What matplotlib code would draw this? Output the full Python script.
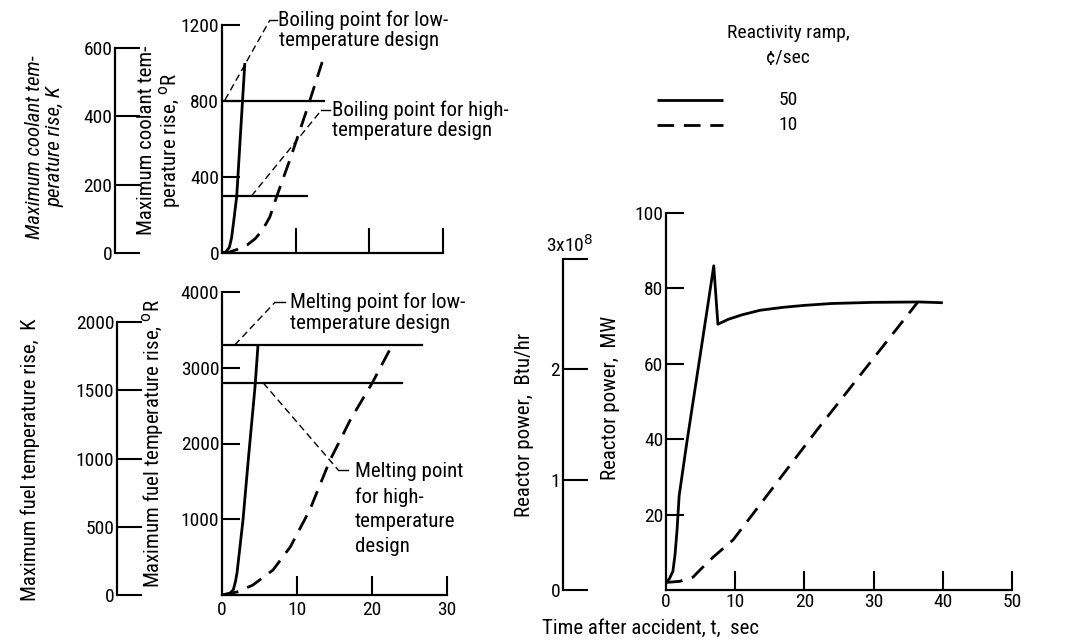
import matplotlib
matplotlib.use("Agg")
import matplotlib.pyplot as plt
from matplotlib import font_manager
from matplotlib.lines import Line2D

# narrow sans close to the scanned report lettering
names = {f.name for f in font_manager.fontManager.ttflist}
fams = [n for n in ["Roboto Condensed", "PT Sans Narrow", "Archivo Narrow"] if n in names]
plt.rcParams["font.family"] = fams + ["DejaVu Sans"]
plt.rcParams["font.size"] = 14

# ---- data ----
# coolant temperature rise, deg R
coolant_t_50 = [0, 0.5, 1.0, 1.3, 1.6, 2.0, 2.5, 3.1]
coolant_50 = [0, 5, 30, 80, 170, 300, 620, 1000]
coolant_t_10 = [0, 1, 2, 3.4, 4.5, 5.5, 6.5, 7.4, 9.2, 11.5, 13.6]
coolant_10 = [0, 5, 18, 42, 75, 121, 190, 295, 489, 752, 1005]
boil_low, boil_low_end = 800, 13.9
boil_high, boil_high_end = 300, 11.6

# fuel temperature rise, deg R
fuel_t_50 = [0, 1.0, 1.5, 1.8, 2.0, 2.8, 3.5, 4.4, 4.8]
fuel_50 = [0, 20, 66, 180, 290, 990, 1780, 2745, 3300]
fuel_t_10 = [0, 2, 4.1, 6.8, 9.1, 11.7, 14.4, 17.1, 20.1, 22.7]
fuel_10 = [0, 40, 130, 330, 634, 1122, 1780, 2310, 2812, 3300]
melt_low, melt_low_end = 3300, 26.7
melt_high, melt_high_end = 2800, 24.0

# reactor power, MW
power_t_50 = [0, 0.5, 1.0, 1.3, 1.6, 1.9, 3.0, 4.5, 6.0, 6.9, 7.5, 9, 11, 13.6, 17, 20, 24, 30, 36.6, 40]
power_50 = [2, 3, 5, 9.3, 16, 25, 39, 57, 75, 86, 70.5, 71.8, 73, 74.2, 75, 75.5, 76, 76.3, 76.4, 76.2]
power_t_10 = [0, 2, 3.9, 4.9, 6.8, 9.7, 21.8, 36.4]
power_10 = [2, 2.3, 3.4, 5.3, 8.7, 13.3, 42.4, 76.4]

ramps = ["50", "10"]

W, H = 1075, 642
fig = plt.figure(figsize=(W / 100, H / 100), dpi=100)

def px_axes(x0, y0, x1, y1):
    ax = fig.add_axes([x0 / W, 1 - y1 / H, (x1 - x0) / W, (y1 - y0) / H])
    ax.set_facecolor("none")
    for s in ["top", "right"]:
        ax.spines[s].set_visible(False)
    for s in ["left", "bottom"]:
        ax.spines[s].set_linewidth(1.6)
    return ax

def side_axis(x, y0, y1, top, ticks, bound, labels):
    ax = px_axes(x, y0, x + 40, y1)
    ax.spines["bottom"].set_visible(False)
    ax.set_xticks([])
    ax.set_ylim(0, top)
    ax.spines["left"].set_bounds(0, bound)
    ax.set_yticks(ticks)
    ax.set_yticklabels(labels)
    ax.tick_params(axis="y", direction="in", length=18, width=1.5, pad=2)
    return ax

solid = dict(color="black", lw=2.0, solid_capstyle="butt")
dashed = dict(color="black", lw=2.0, dashes=(6, 3.5))
leader = dict(color="black", lw=1.0, dashes=(5, 3), clip_on=False)
thin = dict(color="black", lw=1.0, clip_on=False)
ref = dict(color="black", lw=1.6)
note = dict(ha="left", va="center", fontsize=15)

# ---------------- coolant panel ----------------
ax1 = px_axes(222, 25, 443, 253)
ax1.set_xlim(0, 30)
ax1.set_ylim(0, 1200)
ax1.set_yticks([0, 400, 800, 1200])
ax1.set_xticks([10, 20, 30])
ax1.set_xticklabels([])
ax1.tick_params(axis="y", direction="in", length=13, width=1.5, pad=2)
ax1.tick_params(axis="x", direction="in", length=18, width=1.5)
ax1.plot(coolant_t_50, coolant_50, **solid)
ax1.plot(coolant_t_10, coolant_10, **dashed)
ax1.plot([0, boil_low_end], [boil_low] * 2, **ref)
ax1.plot([0, boil_high_end], [boil_high] * 2, **ref)
ax1.plot([0.4, 6.5], [805, 1226], **leader)
ax1.plot([6.5, 7.4], [1226, 1226], **thin)
ax1.text(7.6, 1226, "Boiling point for low-", **note)
ax1.text(7.7, 1120, "temperature design", **note)
ax1.plot([4.0, 13.5], [300, 752], **leader)
ax1.plot([13.5, 14.6], [752, 752], **thin)
ax1.text(15.0, 752, "Boiling point for high-", **note)
ax1.text(15.0, 647, "temperature design", **note)
side_axis(115, 25, 253, 1200 / 1.8, [0, 200, 400, 600], 600, ["0", "200", "400", "600"])

fig.text(45 / W, 1 - 147 / H, "Maximum coolant tem-\nperature rise, K", rotation=90,
         ha="center", va="center", linespacing=1.1, fontsize=15, style="italic")
fig.text(160 / W, 1 - 140 / H, "Maximum coolant tem-\nperature rise, $^{\\rm o}$R", rotation=90,
         ha="center", va="center", linespacing=1.1, fontsize=15)

# ---------------- fuel panel ----------------
ax2 = px_axes(222, 292, 447, 595)
ax2.set_xlim(0, 30)
ax2.set_ylim(0, 4000)
ax2.set_yticks([0, 1000, 2000, 3000, 4000])
ax2.set_yticklabels(["", "1000", "2000", "3000", "4000"])
ax2.set_xticks([0, 10, 20, 30])
ax2.tick_params(axis="y", direction="in", length=13, width=1.5, pad=2)
ax2.tick_params(axis="x", direction="in", length=14, width=1.5, pad=4)
ax2.xaxis.get_major_ticks()[0].tick1line.set_visible(False)
ax2.plot(fuel_t_50, fuel_50, **solid)
ax2.plot(fuel_t_10, fuel_10, **dashed)
ax2.plot([0, melt_low_end], [melt_low] * 2, **ref)
ax2.plot([0, melt_high_end], [melt_high] * 2, **ref)
ax2.plot([1.7, 7.1], [3300, 3868], **leader)
ax2.plot([7.1, 8.4], [3868, 3868], **thin)
ax2.text(9.0, 3868, "Melting point for low-", **note)
ax2.text(9.0, 3590, "temperature design", **note)
ax2.plot([5.5, 15.5], [2800, 1650], **leader)
ax2.plot([15.5, 16.8], [1650, 1650], **thin)
for k, line in enumerate(["Melting point", "for high-", "temperature", "design"]):
    ax2.text(17.7, 1624 - 330 * k, line, **note)
side_axis(117, 292, 595, 4000 / 1.8, [0, 500, 1000, 1500, 2000], 2000,
          ["0", "500", "1000", "1500", "2000"])

fig.text(30 / W, 1 - 460 / H, "Maximum fuel temperature rise,  K", rotation=90,
         ha="center", va="center", fontsize=15)
fig.text(153 / W, 1 - 443 / H, "Maximum fuel temperature rise, $^{\\rm o}$R", rotation=90,
         ha="center", va="center", fontsize=15)

# ---------------- power panel ----------------
ax3 = px_axes(666, 213, 1012, 590)
ax3.set_xlim(0, 50)
ax3.set_ylim(0, 100)
ax3.set_yticks([20, 40, 60, 80, 100])
ax3.set_xticks([0, 10, 20, 30, 40, 50])
ax3.tick_params(axis="y", direction="in", length=13, width=1.5, pad=2)
ax3.tick_params(axis="x", direction="in", length=14, width=1.5, pad=2)
ax3.xaxis.get_major_ticks()[0].tick1line.set_visible(False)
ax3.plot(power_t_50, power_50, **solid)
ax3.plot(power_t_10, power_10, **dashed)
btu = side_axis(563, 213, 590, 100 / 29.3071, [0, 1, 2, 3], 3, ["0", "1", "2", ""])
btu.tick_params(axis="y", length=18)
fig.text(570 / W, 1 - 245 / H, "3x10$^{8}$", ha="center", va="center", fontsize=14)

fig.text(525 / W, 1 - 425 / H, "Reactor power,  Btu/hr", rotation=90,
         ha="center", va="center", fontsize=15)
fig.text(610 / W, 1 - 398 / H, "Reactor power,  MW", rotation=90,
         ha="center", va="center", fontsize=15)
fig.text(542 / W, 1 - 628 / H, "Time after accident, t,  sec", ha="left",
         va="center", fontsize=15)

# ---------------- legend ----------------
fig.text(788 / W, 1 - 33 / H, "Reactivity ramp,", ha="center", va="center", fontsize=14)
fig.text(788 / W, 1 - 58 / H, "\u00a2/sec", ha="center", va="center", fontsize=14)
styles = [solid, dashed]
for i, (lab, st) in enumerate(zip(ramps, styles)):
    yy = 1 - (100 + 25 * i) / H
    fig.add_artist(Line2D([657 / W, 723 / W], [yy, yy], transform=fig.transFigure, **st))
    fig.text(788 / W, yy, lab, ha="center", va="center", fontsize=14)

fig.savefig("out.png", dpi=100)
